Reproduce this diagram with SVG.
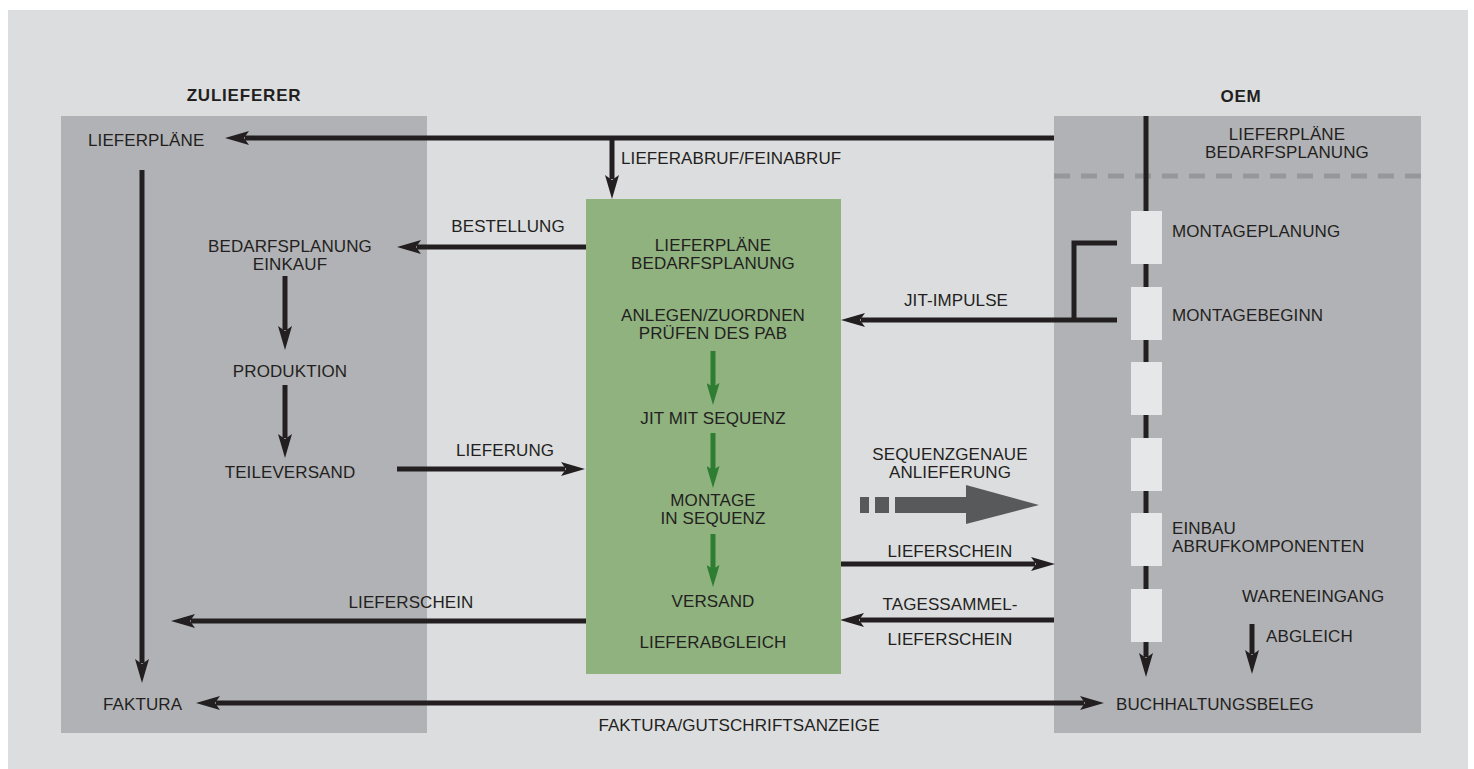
<svg xmlns="http://www.w3.org/2000/svg" width="1474" height="769" viewBox="0 0 1474 769">
<style>
text{font-family:"Liberation Sans",Arial,sans-serif;font-size:17px;fill:#231f20;letter-spacing:0.1px}
.h{font-weight:bold;font-size:17px;letter-spacing:0.8px}
.m{text-anchor:middle}
.c{stroke:#231f20;stroke-width:5;fill:none}
.g{stroke:#2e7d32;stroke-width:5;fill:none}
.slot{fill:#e6e7e8}
</style>
<defs>
<marker id="ah" markerUnits="userSpaceOnUse" viewBox="0 0 24 14" refX="4" refY="7" markerWidth="24" markerHeight="14" orient="auto-start-reverse">
<path d="M0,0 L24,7 L0,14 L5,7 z" fill="#231f20"/>
</marker>
<marker id="gh" markerUnits="userSpaceOnUse" viewBox="0 0 22 13" refX="4" refY="6.5" markerWidth="22" markerHeight="13" orient="auto">
<path d="M0,0 L22,6.5 L0,13 L4,6.5 z" fill="#2e7d32"/>
</marker>
</defs>
<rect x="0" y="0" width="1474" height="769" fill="#ffffff"/>
<rect x="8" y="10" width="1460" height="759" fill="#dcdddf"/>

<g id="zulieferer">
<rect x="61" y="116" width="366" height="617" fill="#b1b2b5"/>
<text class="h m" x="244" y="101">ZULIEFERER</text>
</g>
<g id="oem">
<rect x="1054" y="116" width="367" height="617" fill="#b1b2b5"/>
<text class="h m" x="1241" y="102">OEM</text>
<line x1="1054" y1="176" x2="1421" y2="176" stroke="#96979b" stroke-width="5" stroke-dasharray="16 11"/>
</g>

<g id="connectors">
<line class="c" x1="1054" y1="138" x2="245" y2="138" marker-end="url(#ah)"/>
<line class="c" x1="612" y1="136" x2="612" y2="179" marker-end="url(#ah)"/>
<line class="c" x1="142" y1="170" x2="142" y2="663" marker-end="url(#ah)"/>
<line class="c" x1="586" y1="247" x2="417" y2="247" marker-end="url(#ah)"/>
<line class="c" x1="285" y1="276" x2="285" y2="330" marker-end="url(#ah)"/>
<line class="c" x1="285" y1="385" x2="285" y2="438" marker-end="url(#ah)"/>
<line class="c" x1="397" y1="469" x2="565" y2="469" marker-end="url(#ah)"/>
<line class="c" x1="586" y1="621" x2="191" y2="621" marker-end="url(#ah)"/>
<line class="c" x1="216" y1="703" x2="1084" y2="703" marker-start="url(#ah)" marker-end="url(#ah)"/>
<path class="c" d="M1117,243 H1074 V320"/>
<line class="c" x1="1117" y1="320" x2="861" y2="320" marker-end="url(#ah)"/>
<line class="c" x1="841" y1="564" x2="1035" y2="564" marker-end="url(#ah)"/>
<line class="c" x1="1054" y1="620" x2="860" y2="620" marker-end="url(#ah)"/>
<line class="c" x1="1146" y1="116" x2="1146" y2="657" marker-end="url(#ah)"/>
<line class="c" x1="1252" y1="624" x2="1252" y2="654" marker-end="url(#ah)"/>
</g>

<g id="oem-steps">
<rect class="slot" x="1131" y="211" width="31" height="53"/>
<rect class="slot" x="1131" y="287" width="31" height="53"/>
<rect class="slot" x="1131" y="362" width="31" height="53"/>
<rect class="slot" x="1131" y="438" width="31" height="53"/>
<rect class="slot" x="1131" y="513" width="31" height="53"/>
<rect class="slot" x="1131" y="589" width="31" height="53"/>
</g>

<g id="green-box">
<rect x="586" y="199" width="255" height="475" fill="#8fb27f"/>
<line class="g" x1="713" y1="351" x2="713" y2="387" marker-end="url(#gh)"/>
<line class="g" x1="713" y1="433" x2="713" y2="470" marker-end="url(#gh)"/>
<line class="g" x1="713" y1="534" x2="713" y2="569" marker-end="url(#gh)"/>
<text class="m" x="713" y="251">LIEFERPLÄNE<tspan x="713" dy="18">BEDARFSPLANUNG</tspan></text>
<text class="m" x="713" y="321">ANLEGEN/ZUORDNEN<tspan x="713" dy="18">PRÜFEN DES PAB</tspan></text>
<text class="m" x="713" y="424">JIT MIT SEQUENZ</text>
<text class="m" x="713" y="506">MONTAGE<tspan x="713" dy="18">IN SEQUENZ</tspan></text>
<text class="m" x="713" y="607">VERSAND</text>
<text class="m" x="713" y="648">LIEFERABGLEICH</text>
</g>

<g id="big-arrow" fill="#58595b">
<rect x="860" y="497" width="9" height="16"/>
<rect x="875" y="497" width="14" height="16"/>
<rect x="895" y="497" width="72" height="16"/>
<polygon points="966,485 1039,505 966,524"/>
</g>

<g id="labels">
<text x="88" y="146">LIEFERPLÄNE</text>
<text x="621" y="164">LIEFERABRUF/FEINABRUF</text>
<text class="m" x="508" y="232">BESTELLUNG</text>
<text class="m" x="290" y="252">BEDARFSPLANUNG<tspan x="290" dy="18">EINKAUF</tspan></text>
<text class="m" x="290" y="377">PRODUKTION</text>
<text class="m" x="290" y="478">TEILEVERSAND</text>
<text class="m" x="505" y="456">LIEFERUNG</text>
<text class="m" x="411" y="608">LIEFERSCHEIN</text>
<text x="103" y="710">FAKTURA</text>
<text class="m" x="739" y="731">FAKTURA/GUTSCHRIFTSANZEIGE</text>
<text class="m" x="956" y="306">JIT-IMPULSE</text>
<text class="m" x="950" y="460">SEQUENZGENAUE<tspan x="950" dy="18">ANLIEFERUNG</tspan></text>
<text class="m" x="950" y="557">LIEFERSCHEIN</text>
<text class="m" x="950" y="610">TAGESSAMMEL-</text>
<text class="m" x="950" y="645">LIEFERSCHEIN</text>
<text class="m" x="1287" y="140">LIEFERPLÄNE<tspan x="1287" dy="18">BEDARFSPLANUNG</tspan></text>
<text x="1172" y="237">MONTAGEPLANUNG</text>
<text x="1172" y="321">MONTAGEBEGINN</text>
<text x="1172" y="534">EINBAU<tspan x="1172" dy="18">ABRUFKOMPONENTEN</tspan></text>
<text x="1242" y="602">WARENEINGANG</text>
<text x="1266" y="642">ABGLEICH</text>
<text x="1116" y="710">BUCHHALTUNGSBELEG</text>
</g>
</svg>
